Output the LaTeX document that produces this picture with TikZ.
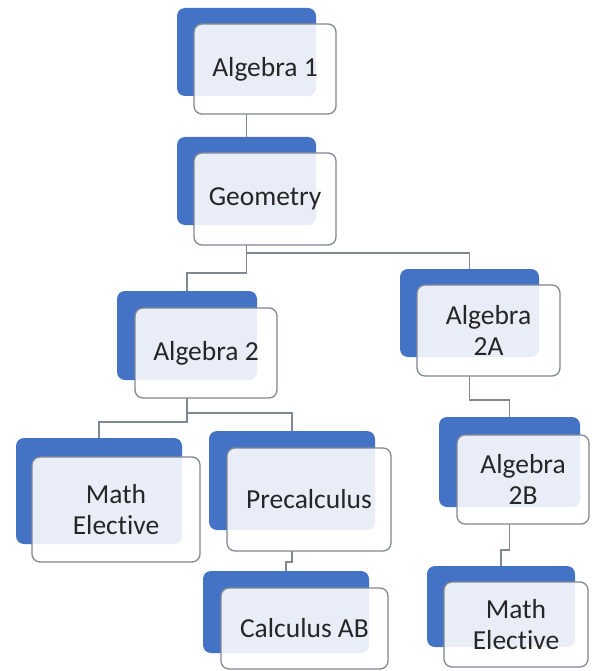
\documentclass[tikz,border=0pt]{standalone}
\usepackage{fontspec}
\setmainfont{Carlito}[Ligatures={NoCommon,NoDiscretionary,NoRare}]
\usetikzlibrary{fit,backgrounds}
\definecolor{boxblue}{RGB}{68,114,196}
\definecolor{edgegray}{RGB}{128,136,148}
\definecolor{txt}{RGB}{38,38,38}
\tikzset{
  bluebox/.style={fill=boxblue, draw=none, rounded corners=8pt, inner sep=0pt, outer sep=0pt},
  frontbox/.style={fill=white, fill opacity=0.88, draw=edgegray, draw opacity=1,
    line width=1.3pt, rounded corners=8pt, inner sep=0pt, outer sep=0pt},
  lbl/.style={inner sep=0pt, align=center, font=\fontsize{27.5}{30.5}\selectfont, text=txt},
  conn/.style={draw=edgegray, line width=1.4pt},
}
\begin{document}
\begin{tikzpicture}[x=1pt, y=-1pt]
\useasboundingbox (0,0) rectangle (591,671);
% Algebra 1
\node[bluebox, fit={(177,8) (316,96)}] (a1b) {};
\node[frontbox, fit={(194,24) (336,114)}] (a1f) {};
\node[lbl] (a1t) at (a1f.center) {Algebra 1};
% Geometry
\node[bluebox, fit={(177,137) (316,225)}] (geob) {};
\node[frontbox, fit={(194,153) (336,245)}] (geof) {};
\node[lbl] (geot) at (geof.center) {Geometry};
% Algebra 2
\node[bluebox, fit={(117,291) (257,380)}] (a2b) {};
\node[frontbox, fit={(135,308) (277,398)}] (a2f) {};
\node[lbl] (a2t) at (a2f.center) {Algebra 2};
% Algebra 2A
\node[bluebox, fit={(400,269) (539,357)}] (a2ab) {};
\node[frontbox, fit={(417,285) (560,376)}] (a2af) {};
\node[lbl] (a2at) at (a2af.center) {Algebra\\2A};
% Math Elective (left)
\node[bluebox, fit={(16,438) (182,544)}] (melb) {};
\node[frontbox, fit={(32,457) (200,562)}] (melf) {};
\node[lbl] (melt) at (melf.center) {Math\\Elective};
% Precalculus
\node[bluebox, fit={(209,431) (375,530)}] (preb) {};
\node[frontbox, fit={(227,448) (391,551)}] (pref) {};
\node[lbl] (pret) at (pref.center) {Precalculus};
% Calculus AB
\node[bluebox, fit={(203,571) (369,653)}] (calb) {};
\node[frontbox, fit={(221,588) (388,669)}] (calf) {};
\node[lbl] (calt) at (calf.center) {Calculus AB};
% Algebra 2B
\node[bluebox, fit={(439,417) (580,507)}] (a2bb) {};
\node[frontbox, fit={(457,435) (589,524)}] (a2bf) {};
\node[lbl] (a2bt) at (a2bf.center) {Algebra\\2B};
% Math Elective (right)
\node[bluebox, fit={(427,566) (575,647)}] (merb) {};
\node[frontbox, fit={(444,582) (588,667)}] (merf) {};
\node[lbl] (mert) at (merf.center) {Math\\Elective};
\begin{scope}[on background layer]
  \fill[white] (0,0) rectangle (591,671);
  \draw[conn] (a1f.south -| a1b.south) -- (geob.north);
  \draw[conn] (geof.south -| geob.south) -- ++(0,8) -| (a2ab.north);
  \draw[conn] (geof.south -| geob.south) -- ++(0,28) -| (a2b.north);
  \draw[conn] (a2f.south -| a2b.south) -- ++(0,15) -| (preb.north);
  \draw[conn] (a2f.south -| a2b.south) -- ++(0,24) -| (melb.north);
  \draw[conn] (pref.south -| preb.south) -- ++(0,11) -| (calb.north);
  \draw[conn] (a2af.south -| a2ab.south) -- ++(0,24) -| (a2bb.north);
  \draw[conn] (a2bf.south -| a2bb.south) -- ++(0,26) -| (merb.north);
\end{scope}
\end{tikzpicture}
\end{document}
